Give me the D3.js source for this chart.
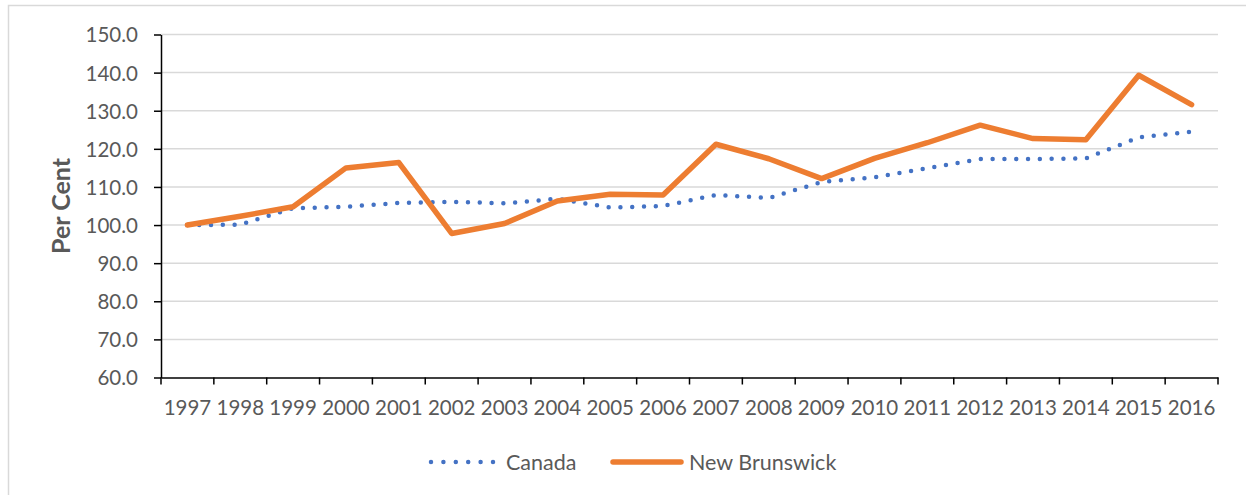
<!DOCTYPE html>
<html>
<head>
<meta charset="utf-8">
<script src="https://cdn.jsdelivr.net/npm/d3@7"></script>
<style>
  body { margin: 0; background: #fff; }
  svg text { font-family: Lato, "Open Sans", sans-serif; }
</style>
</head>
<body>
<div id="chart"></div>
<script>
const years = ["1997","1998","1999","2000","2001","2002","2003","2004","2005","2006",
  "2007","2008","2009","2010","2011","2012","2013","2014","2015","2016"];
const canada = [100.0,100.1,104.4,104.8,105.8,106.1,105.7,106.9,104.6,105.0,
  107.9,107.1,111.3,112.5,114.9,117.3,117.3,117.5,123.0,124.5];
const newBrunswick = [100.0,102.3,104.8,115.0,116.4,97.8,100.4,106.3,108.1,107.9,
  121.2,117.4,112.2,117.5,121.6,126.2,122.7,122.4,139.3,131.6];
const yTicks = [60,70,80,90,100,110,120,130,140,150];

const w = 1246, h = 495;
const margin = { left: 161, right: 1218, top: 34.5, bottom: 377.5 };

const svg = d3.select("#chart").append("svg").attr("width", w).attr("height", h);

// outer frame
svg.append("rect")
  .attr("x", 8.5).attr("y", 5.5)
  .attr("width", w + 20).attr("height", h + 20)
  .attr("fill", "none").attr("stroke", "#d9d9d9").attr("stroke-width", 1.5);

const x = d3.scaleBand().domain(years).range([margin.left, margin.right]).padding(0);
const y = d3.scaleLinear().domain([60, 150]).range([margin.bottom, margin.top]);

// gridlines
svg.append("g")
  .selectAll("line")
  .data(yTicks.slice(1))
  .enter()
  .append("line")
  .attr("x1", margin.left).attr("x2", margin.right)
  .attr("y1", (d) => y(d)).attr("y2", (d) => y(d))
  .attr("stroke", "#d9d9d9").attr("stroke-width", 1.5);

// y axis
const yAxis = svg.append("g")
  .attr("transform", "translate(" + margin.left + ",0)")
  .call(d3.axisLeft(y).tickValues(yTicks).tickFormat(d3.format(".1f")).tickSize(7).tickSizeOuter(0).tickPadding(16));
yAxis.select(".domain").attr("stroke", "#000").attr("stroke-width", 1.5);
yAxis.selectAll(".tick line").attr("stroke", "#000").attr("stroke-width", 1.5);
yAxis.selectAll("text").attr("fill", "#595959").style("font-size", "20.5px").attr("dy", "0.36em");

// x axis: labels
const xAxis = svg.append("g")
  .attr("transform", "translate(0," + margin.bottom + ")")
  .call(d3.axisBottom(x).tickSize(0).tickPadding(27));
xAxis.select(".domain").attr("stroke", "#000").attr("stroke-width", 1.5);
xAxis.selectAll("text").attr("fill", "#595959").style("font-size", "20.5px").attr("dy", "0.5em");

// x axis: tick marks at category boundaries
svg.append("g")
  .selectAll("line")
  .data(years.map((d) => x(d)).concat([x.range()[1]]))
  .enter()
  .append("line")
  .attr("x1", (d) => d).attr("x2", (d) => d)
  .attr("y1", margin.bottom).attr("y2", margin.bottom + 7)
  .attr("stroke", "#000").attr("stroke-width", 1.5);

svg.append("text")
  .attr("transform", "translate(70," + (margin.top + margin.bottom) / 2 + ") rotate(-90)")
  .attr("text-anchor", "middle")
  .attr("fill", "#595959")
  .style("font-size", "25px")
  .style("font-weight", "bold")
  .text("Per Cent");

const line = d3.line()
  .x((d, i) => x(years[i]) + x.bandwidth() / 2)
  .y((d) => y(d));

svg.append("path")
  .datum(canada)
  .attr("d", line)
  .attr("fill", "none")
  .attr("stroke", "#4472c4")
  .attr("stroke-width", 4.5)
  .attr("stroke-linecap", "round")
  .attr("stroke-dasharray", "0 11.8");

svg.append("path")
  .datum(newBrunswick)
  .attr("d", line)
  .attr("fill", "none")
  .attr("stroke", "#ed7d31")
  .attr("stroke-width", 5.5)
  .attr("stroke-linecap", "round")
  .attr("stroke-linejoin", "round");

// legend
const legend = svg.append("g");
legend.append("line")
  .attr("x1", 431).attr("x2", 493).attr("y1", 462).attr("y2", 462)
  .attr("stroke", "#4472c4").attr("stroke-width", 4.5)
  .attr("stroke-linecap", "round").attr("stroke-dasharray", "0 12.4");
legend.append("text")
  .attr("x", 506).attr("y", 469.5)
  .attr("fill", "#595959").style("font-size", "21.5px")
  .text("Canada");
legend.append("line")
  .attr("x1", 613).attr("x2", 681).attr("y1", 462).attr("y2", 462)
  .attr("stroke", "#ed7d31").attr("stroke-width", 5.5)
  .attr("stroke-linecap", "round");
legend.append("text")
  .attr("x", 689).attr("y", 469.5)
  .attr("fill", "#595959").style("font-size", "21.5px")
  .text("New Brunswick");
</script>
</body>
</html>
